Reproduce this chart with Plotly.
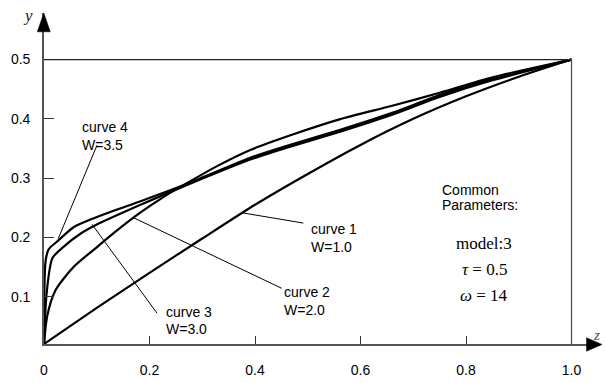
import plotly.graph_objects as go

# ---- data ----
c1_x = [0, 0.1, 0.2, 0.3, 0.4, 0.5, 0.6, 0.7, 0.8, 0.9, 1.0]
c1_y = [0.02, 0.081, 0.140, 0.198, 0.255, 0.307, 0.356, 0.400, 0.438, 0.471, 0.500]

c2_x = [0, 0.006, 0.022, 0.056, 0.101, 0.139, 0.183, 0.23, 0.27, 0.33, 0.39, 0.47, 0.56, 0.66, 0.75, 0.85, 1.0]
c2_y = [0.02, 0.067, 0.111, 0.150, 0.184, 0.212, 0.242, 0.270, 0.291, 0.321, 0.347, 0.373, 0.399, 0.422, 0.444, 0.470, 0.500]

c3_x = [0, 0.005, 0.016, 0.037, 0.069, 0.101, 0.183, 0.27, 0.39, 0.47, 0.56, 0.66, 0.75, 0.85, 1.0]
c3_y = [0.02, 0.106, 0.165, 0.184, 0.206, 0.222, 0.255, 0.288, 0.331, 0.354, 0.378, 0.407, 0.437, 0.465, 0.500]

c4_x = [0, 0.003, 0.009, 0.025, 0.056, 0.088, 0.132, 0.183, 0.27, 0.39, 0.47, 0.56, 0.66, 0.75, 0.85, 1.0]
c4_y = [0.02, 0.160, 0.180, 0.193, 0.217, 0.230, 0.245, 0.261, 0.290, 0.334, 0.357, 0.381, 0.410, 0.440, 0.467, 0.500]

curve_names = ["curve 1", "curve 2", "curve 3", "curve 4"]
curve_w = ["W=1.0", "W=2.0", "W=3.0", "W=3.5"]
x_tickvals = [0, 0.2, 0.4, 0.6, 0.8, 1.0]
x_ticktext = ["0", "0.2", "0.4", "0.6", "0.8", "1.0"]
y_tickvals = [0.1, 0.2, 0.3, 0.4, 0.5]
y_ticktext = ["0.1", "0.2", "0.3", "0.4", "0.5"]
params_title = ["Common", "Parameters:"]
params_lines = ["model:3", "<i>τ</i> = 0.5", "<i>ω</i> = 14"]

# ---- layout geometry ----
W, H = 605, 383
ML, MR, MT, MB = 44, 5, 13, 27
PW, PH = W - ML - MR, H - MT - MB
X_MAX = 1.054
Y_MIN, Y_MAX = 0.02, 0.5786

def paper(px, py):
    return (px - ML) / PW, (H - MB - py) / PH

def xd(px):
    return (px - ML) / 527.5

def yd(py):
    return Y_MIN + (356 - py) / 614

fig = go.Figure()
for xs, ys in [(c1_x, c1_y), (c2_x, c2_y), (c3_x, c3_y), (c4_x, c4_y)]:
    fig.add_trace(go.Scatter(x=xs, y=ys, mode="lines",
                             line=dict(color="black", width=2.2, shape="spline", smoothing=0.7),
                             hoverinfo="skip", showlegend=False, cliponaxis=False))

# frame lines (top at y=0.5, right at x=1)
fig.add_shape(type="line", xref="x", yref="y", x0=0, x1=1.0, y0=0.5, y1=0.5,
              line=dict(color="#222", width=1.2))
fig.add_shape(type="line", xref="x", yref="y", x0=1.0, x1=1.0, y0=Y_MIN, y1=0.5,
              line=dict(color="#555", width=1.3))

# arrow heads
def tri(pts):
    return "M " + " L ".join("%f,%f" % paper(*p) for p in pts) + " Z"

fig.add_shape(type="path", xref="paper", yref="paper",
              path=tri([(43.8, 13), (37.3, 32.5), (50.3, 32.5)]),
              fillcolor="black", line=dict(color="black", width=0.5))
fig.add_shape(type="path", xref="paper", yref="paper",
              path=tri([(602, 356.5), (586.5, 349.5), (586.5, 363.5)]),
              fillcolor="black", line=dict(color="black", width=0.5))

ann = []
# pointer lines
pointers = [
    (0.3748, 0.2415, 0.4916, 0.2241),   # curve 1
    (0.1700, 0.2330, 0.4506, 0.1140),   # curve 2
    (0.0910, 0.2220, 0.2142, 0.0721),   # curve 3
    (0.0271, 0.1980, 0.1005, 0.3555),   # curve 4
]
for x0, y0, x1, y1 in pointers:
    fig.add_shape(type="line", xref="x", yref="y", x0=x0, y0=y0, x1=x1, y1=y1,
                  line=dict(color="black", width=1))

sans = dict(family="Liberation Sans, Arial", size=14, color="black")
serif = dict(family="Liberation Serif, Times New Roman", size=17, color="black")

# label positions (pixel left edge, pixel centre of first / second line)
label_pix = [(309, 236.5, 256), (282, 302.5, 321), (164, 322.5, 340.5), (79.5, 131.5, 149.5)]
for (lx, y1, y2), nm, wv in zip(label_pix, curve_names, curve_w):
    for txt, py in ((nm, y1), (wv, y2)):
        ann.append(dict(x=xd(lx), y=yd(py), xref="x", yref="y", text=txt, showarrow=False,
                        xanchor="left", yanchor="middle", font=sans))

for txt, py in zip(params_title, [196, 211.5]):
    ann.append(dict(x=xd(440), y=yd(py), xref="x", yref="y", text=txt,
                    showarrow=False, xanchor="left", yanchor="middle", font=sans))
for txt, py in zip(params_lines, [252, 279, 306]):
    ann.append(dict(x=xd(484), y=yd(py), xref="x", yref="y", text=txt,
                    showarrow=False, xanchor="center", yanchor="middle", font=serif))

# axis names
px, py = paper(28, 16)
ann.append(dict(x=px, y=py, xref="paper", yref="paper", text="<i>y</i>", showarrow=False,
                xanchor="center", yanchor="middle",
                font=dict(family="Liberation Serif, Times New Roman", size=17, color="#222")))
px, py = paper(596, 347)
ann.append(dict(x=px, y=py, xref="paper", yref="paper", text="<i>z</i>", showarrow=False,
                xanchor="center", yanchor="middle",
                font=dict(family="Liberation Serif, Times New Roman", size=15, color="#555")))

fig.update_layout(
    width=W, height=H,
    margin=dict(l=ML, r=MR, t=MT, b=MB, pad=0),
    paper_bgcolor="white", plot_bgcolor="white",
    showlegend=False, hovermode=False,
    annotations=ann,
    xaxis=dict(range=[0, X_MAX], showgrid=False, zeroline=False,
               showline=True, linecolor="#555", linewidth=1.6,
               ticks="inside", ticklen=8, tickwidth=1.3, tickcolor="#333",
               tickvals=x_tickvals, ticktext=x_ticktext, ticklabelstandoff=12,
               tickfont=sans),
    yaxis=dict(range=[Y_MIN, Y_MAX], showgrid=False, zeroline=False,
               showline=True, linecolor="#555", linewidth=1.6,
               ticks="inside", ticklen=10, tickwidth=1.3, tickcolor="#333",
               tickvals=y_tickvals, ticktext=y_ticktext, ticklabelstandoff=9,
               tickfont=sans),
)

fig.write_html("out.html", config={"displayModeBar": False},
               post_script="document.body.style.margin='0px';document.body.style.padding='0px';")
